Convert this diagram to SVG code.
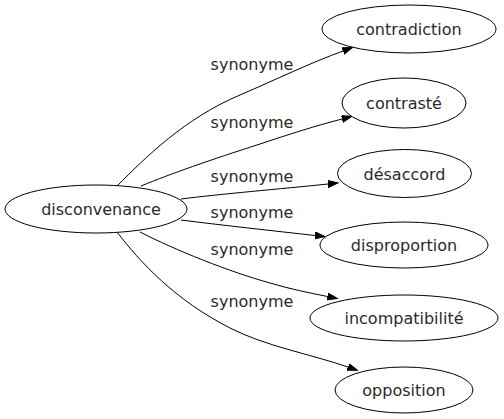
<svg xmlns="http://www.w3.org/2000/svg" width="504" height="419" viewBox="0 0 504 419">
<style>
.node ellipse{fill:#fff;stroke:#000;stroke-width:1}
text{font-family:"DejaVu Sans",Verdana,sans-serif;font-size:16px;fill:#2a2a2a;text-anchor:middle}
.edge{fill:none;stroke:#000;stroke-width:1;marker-end:url(#arr)}
</style>
<defs>
<marker id="arr" markerUnits="userSpaceOnUse" markerWidth="12" markerHeight="10" refX="0" refY="3.5" orient="auto">
<polygon points="0,0 10,3.5 0,7" fill="#000" stroke="#000" stroke-width="1"/>
</marker>
</defs>
<rect width="504" height="419" fill="#fff"/>
<g id="edges">
<path class="edge" d="M117,186 C145,158 185,118 240,95 C275,80 310,63 343,51"/>
<path class="edge" d="M141,186 C170,174 210,160 260,144 C290,134 315,126 342,119"/>
<path class="edge" d="M181,199 C220,194 280,189 328,184"/>
<path class="edge" d="M181,220 C220,225 275,231 315,235.5"/>
<path class="edge" d="M140,232 C175,250 230,272 270,283 C290,289 310,293 327.5,296.5"/>
<path class="edge" d="M117,232 C140,262 175,300 230,328 C265,346 310,354 348,367"/>
<text x="252" y="70">synonyme</text>
<text x="252" y="128">synonyme</text>
<text x="252" y="182">synonyme</text>
<text x="252" y="218">synonyme</text>
<text x="252" y="255">synonyme</text>
<text x="252" y="307">synonyme</text>
</g>
<g id="n0" class="node"><ellipse cx="96" cy="209" rx="91" ry="24"/><text x="101" y="215">disconvenance</text></g>
<g id="n1" class="node"><ellipse cx="409" cy="29" rx="87" ry="24"/><text x="409" y="35">contradiction</text></g>
<g id="n2" class="node"><ellipse cx="404" cy="103" rx="62" ry="25"/><text x="404" y="109">contrasté</text></g>
<g id="n3" class="node"><ellipse cx="404.5" cy="173.5" rx="67" ry="24"/><text x="404.5" y="179.5">désaccord</text></g>
<g id="n4" class="node"><ellipse cx="404" cy="245" rx="84" ry="23"/><text x="404" y="251">disproportion</text></g>
<g id="n5" class="node"><ellipse cx="404" cy="318" rx="94" ry="23"/><text x="404" y="324">incompatibilité</text></g>
<g id="n6" class="node"><ellipse cx="404" cy="390" rx="69" ry="23"/><text x="404" y="396">opposition</text></g>
</svg>
